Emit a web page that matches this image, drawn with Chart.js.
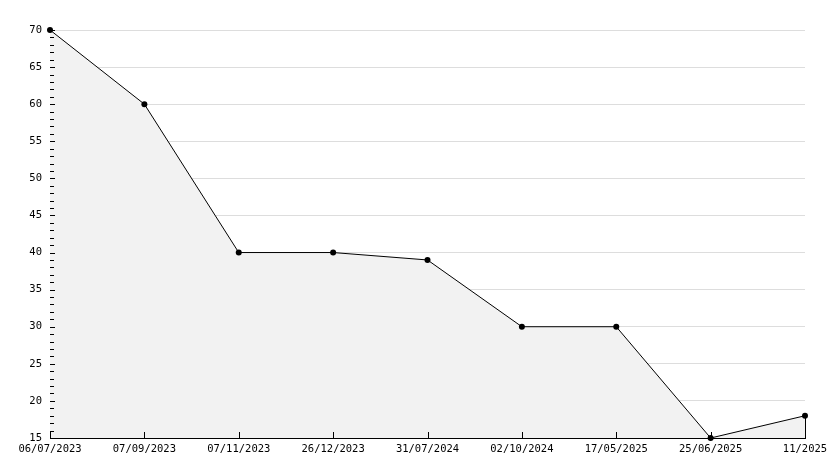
<!DOCTYPE html>
<html>
<head>
<meta charset="utf-8">
<script src="https://cdn.jsdelivr.net/npm/chart.js@4/dist/chart.umd.min.js"></script>
<style>
    body { margin: 0; background: #fff; }
</style>
</head>
<body>
<canvas id="chart" width="834" height="468"></canvas>
<script>
    "use strict";

    const dates = ['06/07/2023', '07/09/2023', '07/11/2023', '26/12/2023', '31/07/2024',
        '02/10/2024', '17/05/2025', '25/06/2025', '11/2025'];
    const values = [70, 60, 40, 40, 39, 30, 30, 15, 18];
    const yMin = 15, yMax = 70, yStep = 5;

    const font = { family: "'DejaVu Sans Mono', monospace", size: 10.5, lineHeight: 1 };

    // inward ticks on both axes + closing edge of the filled area
    const axisTicks = {
        id: 'axisTicks',
        afterDatasetsDraw(chart) {
            const ctx = chart.ctx;
            const x = chart.scales.x, y = chart.scales.y;
            const left = chart.chartArea.left, bottom = chart.chartArea.bottom;
            ctx.save();
            ctx.strokeStyle = '#000';
            ctx.lineWidth = 1;
            ctx.beginPath();
            for (let v = yMin; v <= yMax; v++) {
                const py = Math.round(y.getPixelForValue(v)) + 0.5;
                const len = v % yStep === 0 ? 5 : 4;
                ctx.moveTo(left, py);
                ctx.lineTo(left + len, py);
            }
            dates.forEach((d, i) => {
                const px = Math.round(x.getPixelForValue(i)) + 0.5;
                ctx.moveTo(px, bottom);
                ctx.lineTo(px, bottom - 6);
            });
            const last = values.length - 1;
            const lx = Math.round(x.getPixelForValue(last)) + 0.5;
            ctx.moveTo(lx, y.getPixelForValue(values[last]));
            ctx.lineTo(lx, bottom);
            ctx.stroke();
            ctx.restore();
        }
    };

    new Chart(document.getElementById('chart'), {
        type: 'line',
        data: {
            labels: dates,
            datasets: [{
                data: values,
                borderColor: '#000',
                borderWidth: 1,
                backgroundColor: '#f2f2f2',
                fill: 'start',
                tension: 0,
                clip: false,
                pointRadius: 3,
                pointBackgroundColor: '#000',
                pointBorderColor: '#000',
                pointBorderWidth: 0
            }]
        },
        options: {
            responsive: false,
            animation: false,
            layout: {
                padding: { top: 30, right: 29, left: 0, bottom: 0 }
            },
            plugins: {
                legend: { display: false },
                tooltip: { enabled: false }
            },
            scales: {
                x: {
                    offset: false,
                    grid: { display: false, drawTicks: false },
                    border: { display: true, color: '#000', width: 1 },
                    ticks: { color: '#000', font: font, padding: 6, maxRotation: 0, autoSkip: false },
                    afterFit: s => { s.height = 30; }
                },
                y: {
                    min: yMin,
                    max: yMax,
                    grid: { color: '#dddddd', drawTicks: false },
                    border: { display: true, color: '#000', width: 1 },
                    ticks: { stepSize: yStep, color: '#000', font: font, padding: 8 },
                    afterFit: s => { s.width = 50; }
                }
            }
        },
        plugins: [axisTicks]
    });
</script>
</body>
</html>
